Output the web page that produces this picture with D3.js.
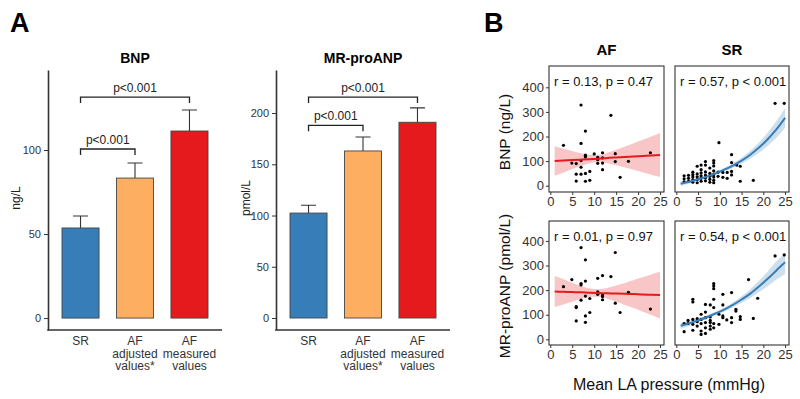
<!DOCTYPE html>
<html>
<head>
<meta charset="utf-8">
<script src="https://cdn.jsdelivr.net/npm/d3@7"></script>
<style>
body { margin: 0; background: #fff; }
text { font-family: "Liberation Sans", Arial, sans-serif; }
</style>
</head>
<body>
<div id="chart"></div>
<script>
// ---- panel A data ----
var groups = ["SR", "AF adjusted", "AF measured"];
var groupLabels = [["SR"], ["AF", "adjusted", "values*"], ["AF", "measured", "values"]];
var barColors = ["#377eb8", "#fdae61", "#e41a1c"];

var bnpMean = [53.6, 83.3, 111.3];
var bnpUpper = [60.7, 92.3, 123.8];
var bnpTicks = [0, 50, 100];
var bnpComps = [[0, 1, 100.6, "p<0.001"], [0, 2, 131.5, "p<0.001"]];

var anpMean = [102.4, 163, 191];
var anpUpper = [110, 176.6, 205];
var anpTicks = [0, 50, 100, 150, 200];
var anpComps = [[0, 1, 188, "p<0.001"], [0, 2, 215.6, "p<0.001"]];

// ---- panel B data ----
var facetCols = ["AF", "SR"];
var facetRows = ["BNP (ng/L)", "MR-proANP (pmol/L)"];
var xTicks = [0, 5, 10, 15, 20, 25];
var yTicks = [0, 100, 200, 300, 400];
var stats = ["r = 0.13, p = 0.47", "r = 0.57, p < 0.001", "r = 0.01, p = 0.97", "r = 0.54, p < 0.001"];

var afBnp = [[3.0,164],[7.0,328],[13.8,286],[8.0,222],[7.0,172],[10.0,129],[11.9,134],[14.8,130],
  [8.0,124],[8.0,117],[10.8,115],[10.8,106],[11.9,113],[7.0,102],[4.9,92],[5.9,90],[10.8,91],
  [11.9,92],[14.8,98],[17.8,99],[22.8,134],[7.0,75],[11.9,65],[5.9,47],[7.0,47],[8.0,50],
  [9.0,58],[15.9,34],[5.9,19],[8.0,18],[9.0,22]];

var srBnp = [[22.7,335],[24.8,335],[9.8,175],[12.7,126],[12.7,94],[14.7,79],[14.7,18],[17.7,22],
  [6.7,98],[6.7,84],[8.6,102],[8.6,92],[8.6,80],[4.8,79],[5.7,84],[7.7,72],[5.7,65],[3.8,55],
  [1.8,40],[1.8,28],[1.8,16],[2.8,42],[2.8,30],[2.8,18],[3.8,45],[3.8,35],[3.8,24],[3.8,14],
  [4.8,48],[4.8,36],[4.8,25],[4.8,12],[5.7,52],[5.7,40],[5.7,30],[5.7,18],[6.7,56],[6.7,43],
  [6.7,32],[6.7,20],[7.7,50],[7.7,38],[7.7,26],[7.7,14],[8.6,60],[8.6,46],[8.6,35],[8.6,22],
  [8.6,12],[9.6,55],[9.6,38],[10.7,54],[10.7,34],[11.7,54],[11.7,30],[12.7,58],[12.7,44],
  [13.9,84]];

var afAnp = [[7.0,373],[14.8,353],[8.0,323],[4.9,243],[10.8,248],[11.9,259],[13.8,255],[8.0,237],
  [7.0,227],[7.0,221],[3.0,214],[10.8,193],[10.8,183],[11.9,180],[11.9,174],[8.0,176],[17.8,191],
  [9.0,166],[11.9,161],[7.0,159],[5.9,133],[5.9,129],[14.8,147],[15.9,109],[9.0,109],[8.0,95],
  [22.8,123],[5.9,75],[8.0,69]];

var srAnp = [[22.7,339],[24.8,343],[16.6,243],[18.7,167],[17.7,85],[8.6,227],[8.6,217],[8.6,206],
  [12.7,190],[10.7,183],[3.8,163],[3.8,152],[8.6,163],[6.7,142],[7.8,140],[10.7,140],[8.6,129],
  [13.7,122],[13.7,115],[6.7,111],[5.7,102],[9.8,102],[10.7,95],[10.7,88],[12.7,88],[14.7,92],
  [14.7,81],[11.6,79],[12.7,68],[1.8,64],[2.7,77],[3.8,81],[4.8,84],[5.7,81],[6.7,88],[7.8,91],
  [7.8,77],[6.7,68],[5.7,64],[4.8,54],[3.8,61],[1.8,31],[3.8,37],[5.7,34],[6.7,24],[5.7,20],
  [7.8,41],[7.8,54],[4.8,72],[8.6,64],[8.6,47],[9.8,61],[2.7,64],[7.8,68],[6.7,47]];

// fitted curves and confidence bands, read at these x values
var fitX = [1, 3, 5, 7, 9, 11, 13, 15, 17, 19, 21, 23, 25];
var afBnpFit = [100, 102, 104, 106, 108, 110, 113, 115, 117, 119, 121, 123, 125];
var afBnpLo  = [40, 54, 68, 80, 91, 95, 91, 83, 74, 65, 55, 45, 36];
var afBnpHi  = [160, 150, 141, 132, 126, 126, 134, 146, 159, 173, 186, 200, 214];
var srBnpFit = [8, 16, 26, 37, 50, 65, 82, 102, 126, 155, 189, 229, 276];
var srBnpLo  = [-1, 9, 20, 31, 44, 58, 73, 90, 110, 134, 162, 195, 236];
var srBnpHi  = [17, 23, 32, 43, 56, 72, 91, 114, 142, 176, 216, 263, 316];
var afAnpFit = [194, 193, 192, 191, 189, 188, 187, 186, 185, 184, 182, 181, 180];
var afAnpLo  = [131, 142, 153, 164, 172, 173, 165, 153, 140, 127, 113, 99, 85];
var afAnpHi  = [257, 244, 230, 217, 207, 204, 209, 219, 229, 241, 252, 264, 275];
var srAnpFit = [55, 65, 77, 90, 105, 121, 140, 162, 186, 215, 246, 280, 313];
var srAnpLo  = [43, 55, 69, 83, 98, 113, 130, 149, 168, 192, 216, 243, 266];
var srAnpHi  = [67, 75, 85, 97, 112, 129, 150, 175, 204, 238, 276, 317, 350];

var svg = d3.select("#chart").append("svg")
    .attr("width", 800)
    .attr("height", 399);

// panel letters
svg.append("text").attr("x", 10).attr("y", 32)
   .style("font-size", "27px").style("font-weight", "bold").text("A");
svg.append("text").attr("x", 484).attr("y", 32)
   .style("font-size", "27px").style("font-weight", "bold").text("B");

// ---- bar charts ----
function drawBars(left, title, unit, means, uppers, ticks, yDomain, comps, unitX) {
  var g = svg.append("g");
  var y = d3.scaleLinear().domain(yDomain).range([330, 70]);
  var x = d3.scaleBand().domain(groups)
      .range([left + 14, left + 160]).paddingInner(0.32);
  var bw = x.bandwidth();

  // error bars (upper only)
  g.selectAll(".err").data(groups).enter().append("path")
    .attr("d", function(d, i) {
      var cx = x(d) + bw / 2;
      return "M" + cx + "," + y(means[i]) + "V" + y(uppers[i]) +
             "M" + (cx - 7.5) + "," + y(uppers[i]) + "H" + (cx + 7.5);
    })
    .attr("fill", "none").attr("stroke", "#333").attr("stroke-width", 1.1);

  g.selectAll(".bar").data(groups).enter().append("rect")
    .attr("x", function(d) { return x(d) })
    .attr("y", function(d, i) { return y(means[i]) })
    .attr("width", bw)
    .attr("height", function(d, i) { return y(0) - y(means[i]) })
    .attr("fill", function(d, i) { return barColors[i] })
    .attr("stroke", "#444").attr("stroke-width", 0.9);

  // y axis
  var ya = g.append("g").attr("transform", "translate(" + left + ",0)")
    .call(d3.axisLeft(y).tickValues(ticks).tickSize(4).tickSizeOuter(0));
  ya.select(".domain").attr("stroke", "#333").attr("stroke-width", 1.6);
  ya.selectAll(".tick line").attr("stroke", "#333");
  ya.selectAll(".tick text").style("font-size", "11px").attr("fill", "#333")
    .style("font-family", "Liberation Sans, Arial, sans-serif");

  // x axis line
  g.append("line").attr("x1", left - 0.8).attr("x2", left + 174)
    .attr("y1", y.range()[0]).attr("y2", y.range()[0])
    .attr("stroke", "#333").attr("stroke-width", 1.6);

  // x labels
  var lab = g.selectAll(".xlab").data(groups).enter().append("text")
    .attr("text-anchor", "middle")
    .attr("fill", "#333")
    .style("font-size", "12px");
  lab.each(function(d, i) {
    var t = d3.select(this);
    groupLabels[i].forEach(function(s, j) {
      t.append("tspan").attr("x", x(d) + bw / 2).attr("y", 345 + j * 12.5).text(s);
    });
  });

  // comparison brackets
  comps.forEach(function(c) {
    var x1 = x(groups[c[0]]) + bw / 2, x2 = x(groups[c[1]]) + bw / 2, yy = y(c[2]);
    g.append("path")
      .attr("d", "M" + x1 + "," + (yy + 6) + "V" + yy + "H" + x2 + "V" + (yy + 6))
      .attr("fill", "none").attr("stroke", "#222").attr("stroke-width", 1.3);
    g.append("text").attr("x", (x1 + x2) / 2).attr("y", yy - 5)
      .attr("text-anchor", "middle").style("font-size", "12px").attr("fill", "#222")
      .text(c[3]);
  });

  // title and unit
  g.append("text").attr("x", left + 87).attr("y", 63).attr("text-anchor", "middle")
    .style("font-size", "14px").style("font-weight", "bold").text(title);
  g.append("text").attr("transform", "translate(" + unitX + ",198) rotate(-90)")
    .attr("text-anchor", "middle").style("font-size", "12px").attr("fill", "#222")
    .text(unit);
}

drawBars(48, "BNP", "ng/L", bnpMean, bnpUpper, bnpTicks, [-7.1, 147.6], bnpComps, 20);
drawBars(276, "MR-proANP", "pmol/L", anpMean, anpUpper, anpTicks, [-11.7, 242], anpComps, 250);

// ---- scatter facets ----
var colX = [[549, 664], [675, 789]];
var rowY = [[66, 192], [221, 345]];
var rowDomain = [[-25.6, 486.6], [-23, 481]];
var lineColors = ["#e41a1c", "#377eb8"];
var facets = [
  {r: 0, c: 0, pts: afBnp, fit: afBnpFit, lo: afBnpLo, hi: afBnpHi, stat: stats[0]},
  {r: 0, c: 1, pts: srBnp, fit: srBnpFit, lo: srBnpLo, hi: srBnpHi, stat: stats[1]},
  {r: 1, c: 0, pts: afAnp, fit: afAnpFit, lo: afAnpLo, hi: afAnpHi, stat: stats[2]},
  {r: 1, c: 1, pts: srAnp, fit: srAnpFit, lo: srAnpLo, hi: srAnpHi, stat: stats[3]}
];

facets.forEach(function(f, k) {
  var g = svg.append("g");
  var x = d3.scaleLinear().domain([-0.3, 25.9]).range(colX[f.c]);
  var y = d3.scaleLinear().domain(rowDomain[f.r]).range([rowY[f.r][1], rowY[f.r][0]]);

  g.append("clipPath").attr("id", "clip" + k).append("rect")
    .attr("x", colX[f.c][0]).attr("y", rowY[f.r][0])
    .attr("width", colX[f.c][1] - colX[f.c][0]).attr("height", rowY[f.r][1] - rowY[f.r][0]);

  var inner = g.append("g").attr("clip-path", "url(#clip" + k + ")");

  var band = d3.area()
    .x(function(d, i) { return x(fitX[i]) })
    .y0(function(d, i) { return y(f.lo[i]) })
    .y1(function(d, i) { return y(f.hi[i]) })
    .curve(d3.curveMonotoneX);
  inner.append("path").datum(f.fit).attr("d", band)
    .attr("fill", lineColors[f.c]).attr("fill-opacity", 0.25);

  inner.selectAll("circle").data(f.pts).enter().append("circle")
    .attr("cx", function(d) { return x(d[0]) })
    .attr("cy", function(d) { return y(d[1]) })
    .attr("r", 1.6).attr("fill", "#000");

  var line = d3.line()
    .x(function(d, i) { return x(fitX[i]) })
    .y(function(d) { return y(d) })
    .curve(d3.curveMonotoneX);
  inner.append("path").datum(f.fit).attr("d", line)
    .attr("fill", "none").attr("stroke", lineColors[f.c]).attr("stroke-width", 2);

  // panel border
  g.append("rect").attr("x", colX[f.c][0]).attr("y", rowY[f.r][0])
    .attr("width", colX[f.c][1] - colX[f.c][0]).attr("height", rowY[f.r][1] - rowY[f.r][0])
    .attr("fill", "none").attr("stroke", "#333").attr("stroke-width", 1.1);

  // axes
  var xa = g.append("g").attr("transform", "translate(0," + rowY[f.r][1] + ")")
    .call(d3.axisBottom(x).tickValues(xTicks).tickSize(3).tickPadding(2));
  xa.select(".domain").remove();
  if (f.c == 0) {
    var ya = g.append("g").attr("transform", "translate(" + colX[f.c][0] + ",0)")
      .call(d3.axisLeft(y).tickValues(yTicks).tickSize(3).tickPadding(2));
    ya.select(".domain").remove();
  }
  g.selectAll(".tick line").attr("stroke", "#333");
  g.selectAll(".tick text").style("font-size", "13px").attr("fill", "#333")
    .style("font-family", "Liberation Sans, Arial, sans-serif");

  g.append("text").attr("x", colX[f.c][0] + 5).attr("y", rowY[f.r][0] + 20)
    .style("font-size", "13px").attr("fill", "#111").text(f.stat);
});

// facet strip titles
facetCols.forEach(function(t, i) {
  svg.append("text").attr("x", (colX[i][0] + colX[i][1]) / 2).attr("y", 55)
    .attr("text-anchor", "middle").style("font-size", "15px").style("font-weight", "bold")
    .text(t);
});
// row titles
facetRows.forEach(function(t, i) {
  svg.append("text")
    .attr("transform", "translate(510," + ((rowY[i][0] + rowY[i][1]) / 2 + 3) + ") rotate(-90)")
    .attr("text-anchor", "middle").style("font-size", "15.5px").attr("fill", "#111")
    .text(t);
});
svg.append("text").attr("x", 669).attr("y", 390).attr("text-anchor", "middle")
   .style("font-size", "16px").attr("fill", "#111").text("Mean LA pressure (mmHg)");
</script>
</body>
</html>
